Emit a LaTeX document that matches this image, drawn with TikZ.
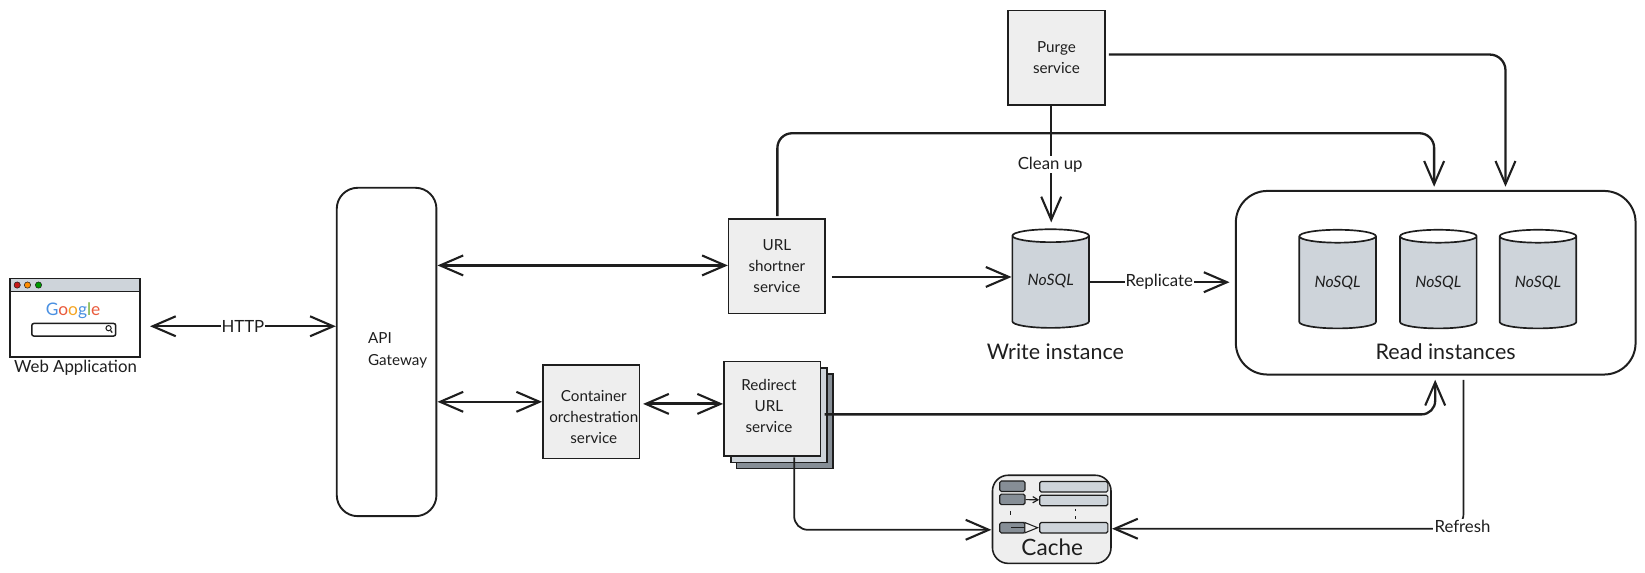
\documentclass[tikz,border=0pt]{standalone}
\usepackage{fontspec}
\setmainfont{Lato}
\usetikzlibrary{arrows.meta,shapes.geometric}
\definecolor{boxfill}{HTML}{EEEEEE}
\definecolor{dbfill}{HTML}{CED4DA}
\definecolor{darkfill}{HTML}{868E96}
\definecolor{ink}{HTML}{1E1E1E}
\tikzset{
  x=1pt,y=-1pt,
  barb/.tip={Straight Barb[length=22pt,width=19pt,line width=2pt]},
  svcbox/.style={draw=ink,line width=1.5pt,fill=boxfill,minimum width=92pt,minimum height=90pt,align=center,inner sep=0pt,text=ink,font=\fontsize{14.5}{20}\selectfont},
  svctext/.style={align=center,inner sep=0pt,text=ink,font=\fontsize{14.5}{20}\selectfont},
  conn/.style={draw=ink,line width=2.2pt,-{barb}},
  conn2/.style={draw=ink,line width=2.2pt,{barb}-{barb}},
  lbl/.style={fill=white,inner sep=1pt,text=ink,font=\fontsize{16}{18}\selectfont},
  captxt/.style={text=ink,inner sep=0pt,font=\fontsize{20.5}{24}\selectfont},
  db/.style={cylinder,shape border rotate=90,aspect=0.28,draw=ink,line width=1.6pt,cylinder uses custom fill,cylinder body fill=dbfill,cylinder end fill=white,minimum width=73pt,minimum height=94pt,inner sep=0pt,text=ink,font=\fontsize{15}{17}\itshape\selectfont},
  cellL/.style={draw=ink,line width=1.1pt,fill=darkfill,rounded corners=1.5pt,inner sep=0pt},
  cellR/.style={draw=ink,line width=1.1pt,fill=dbfill,rounded corners=1.5pt,inner sep=0pt},
  dot/.style={circle,draw=ink,line width=.5pt,minimum size=6pt,inner sep=0pt},
}
\begin{document}
\begin{tikzpicture}
\useasboundingbox (0,0) rectangle (1568,546);
% browser
\node[draw=ink,line width=1.7pt,fill=white,minimum width=124pt,minimum height=75pt,inner sep=0pt] (browser) at (71.5,303) {};
\node[draw=ink,line width=1.2pt,fill=dbfill,minimum width=124pt,minimum height=12pt,inner sep=0pt] (bar) at (71.5,271.5) {};
\node[dot,fill=red!75!black!90] (d1) at (16.4,271.7) {};
\node[dot,fill=orange!90!yellow] (d2) at (26.2,271.7) {};
\node[dot,fill=green!60!black] (d3) at (36.7,271.7) {};
\node[inner sep=0pt,font=\fontsize{16.5}{18}\selectfont] (google) at (69.6,296.5) {\textcolor[HTML]{4A90E2}{G}\textcolor[HTML]{EA5A3C}{o}\textcolor[HTML]{F5A623}{o}\textcolor[HTML]{4A90E2}{g}\textcolor[HTML]{7CB342}{l}\textcolor[HTML]{EA5A3C}{e}};
\node[draw=ink,line width=1.4pt,fill=white,rounded corners=2pt,minimum width=80pt,minimum height=12pt,inner sep=0pt] (search) at (70.3,314.3) {};
\node[circle,draw=ink,line width=1pt,minimum size=5pt,inner sep=0pt] (lens) at (103.5,312.8) {};
\coordinate (lensend) at (107,317);
\draw[draw=ink,line width=1.2pt] (lens) -- (lensend);
\node[text=ink,inner sep=0pt,font=\fontsize{16}{18}\selectfont] (webapp) at (72,351) {Web Application};
% gateway
\node[draw=ink,line width=1.8pt,rounded corners=20pt,minimum width=95pt,minimum height=313pt,inner sep=0pt] (api) at (368.5,335.5) {};
\node[align=left,inner sep=0pt,text=ink,font=\fontsize{14.5}{21}\selectfont] (apil) at (379,334) {API\\Gateway};
% services
\node[svcbox] (url) at (740.5,254) {URL\\shortner\\service};
\node[svcbox,minimum height=89pt] (cont) at (563.5,392.5) {};
\node[svctext] (contl) at (566,397.5) {Container\\orchestration\\service};
\node[svcbox,fill=darkfill] (r3) at (748,401.5) {};
\node[svcbox,fill=dbfill] (r2) at (742.5,396) {};
\node[svcbox] (redir) at (736,389.5) {};
\node[svctext] (redirl) at (733,386.5) {Redirect\\URL\\service};
\node[svcbox] (purge) at (1007,55) {Purge\\service};
% databases
\node[db] (w) at (1001.5,269) {\raisebox{5pt}{NoSQL}};
\node[captxt] (wl) at (1006,335) {Write instance};
\node[draw=ink,line width=1.9pt,rounded corners=30pt,minimum width=381pt,minimum height=175pt,inner sep=0pt] (read) at (1368.5,269.5) {};
\node[db] (r1db) at (1275,269.5) {NoSQL};
\node[db] (r2db) at (1371,269.5) {NoSQL};
\node[db] (r3db) at (1466,269.5) {NoSQL};
\node[captxt] (rl) at (1378,335) {Read instances};
% cache
\node[draw=ink,line width=1.5pt,fill=boxfill,rounded corners=15pt,minimum width=113pt,minimum height=84pt,inner sep=0pt] (cache) at (1002.5,495) {};
\node[text=ink,inner sep=0pt,font=\fontsize{21.5}{24}\selectfont] (cachel) at (1003,522) {Cache};
\node[cellL,minimum width=24pt,minimum height=10pt] (a1) at (965,463.5) {};
\node[cellL,minimum width=24pt,minimum height=10pt] (a2) at (965,476) {};
\node[cellL,minimum width=24pt,minimum height=10pt] (a3) at (965,503) {};
\node[cellR,minimum width=65pt,minimum height=10pt] (b1) at (1023.5,464) {};
\node[cellR,minimum width=65pt,minimum height=10pt] (b2) at (1023.5,477) {};
\node[cellR,minimum width=65pt,minimum height=10pt] (b3) at (1023.5,503) {};
\draw[draw=ink,line width=1.1pt,-{Straight Barb[length=5pt,width=6pt]}] (a2) -- (b2);
\coordinate (a3m) at (964,503);
\draw[draw=ink,line width=1pt,-{Triangle[open,length=14pt,width=11pt,fill=boxfill]}] (a3m) -- (b3.west);
\coordinate (v1) at (963,487); \coordinate (v2) at (963,491);
\draw[draw=ink,line width=1.3pt] (v1) -- (v2);
\coordinate (u1) at (1025,485); \coordinate (u2) at (1025,487);
\coordinate (u3) at (1025,492); \coordinate (u4) at (1025,495);
\draw[draw=ink,line width=1.3pt] (u1) -- (u2) (u3) -- (u4);
% connectors
\coordinate (httpA) at (143,311);
\draw[conn2] (httpA) -- (api.west |- httpA) node[lbl,midway] (http) {HTTP};
\coordinate (a1R) at (417,253);
\draw[conn2,line width=2.8pt] (a1R) -- (url.west |- a1R);
\coordinate (a2R) at (417,383);
\draw[conn2,line width=2pt] (a2R) -- (cont.west |- a2R);
\coordinate (c1) at (613,385);
\draw[conn2,line width=3pt] (c1) -- (redir.west |- c1);
\coordinate (u0) at (741,206);
\coordinate (u9) at (1367,178);
\draw[conn,rounded corners=14pt] (u0) -- (741,127) -- (1367,127) -- (u9);
\coordinate (p1) at (1057,52);
\coordinate (p2) at (1435,178);
\draw[conn,rounded corners=15pt] (p1) -- (1435,52) -- (p2);
\coordinate (p0) at (1002,100);
\coordinate (w0) at (1002,212);
\draw[conn] (p0) -- (w0);
\node[lbl] (clean) at (1001,157) {Clean up};
\coordinate (u1s) at (793,264);
\draw[conn] (u1s) -- (w.west |- u1s);
\coordinate (rp0) at (1038,269);
\coordinate (rp1) at (1172,269);
\draw[conn] (rp0) -- (rp1) node[lbl,midway] (repl) {Replicate};
\coordinate (rd0) at (786,395);
\coordinate (rd9) at (1368,362);
\draw[conn,rounded corners=13pt] (rd0) -- (1368,395) -- (rd9);
\coordinate (rd1) at (757,436);
\coordinate (ca0) at (945,505);
\draw[conn,line width=1.7pt,rounded corners=13pt] (rd1) -- (757,505) -- (ca0);
\coordinate (rf0) at (1395,362);
\coordinate (ca1) at (1060,504);
\coordinate (rfc) at (1395,504);
\draw[conn,line width=1.6pt,rounded corners=14pt] (rf0) -- (rfc) -- (ca1);
\node[lbl] (refresh) at (1394,502) {Refresh};
\end{tikzpicture}
\end{document}
